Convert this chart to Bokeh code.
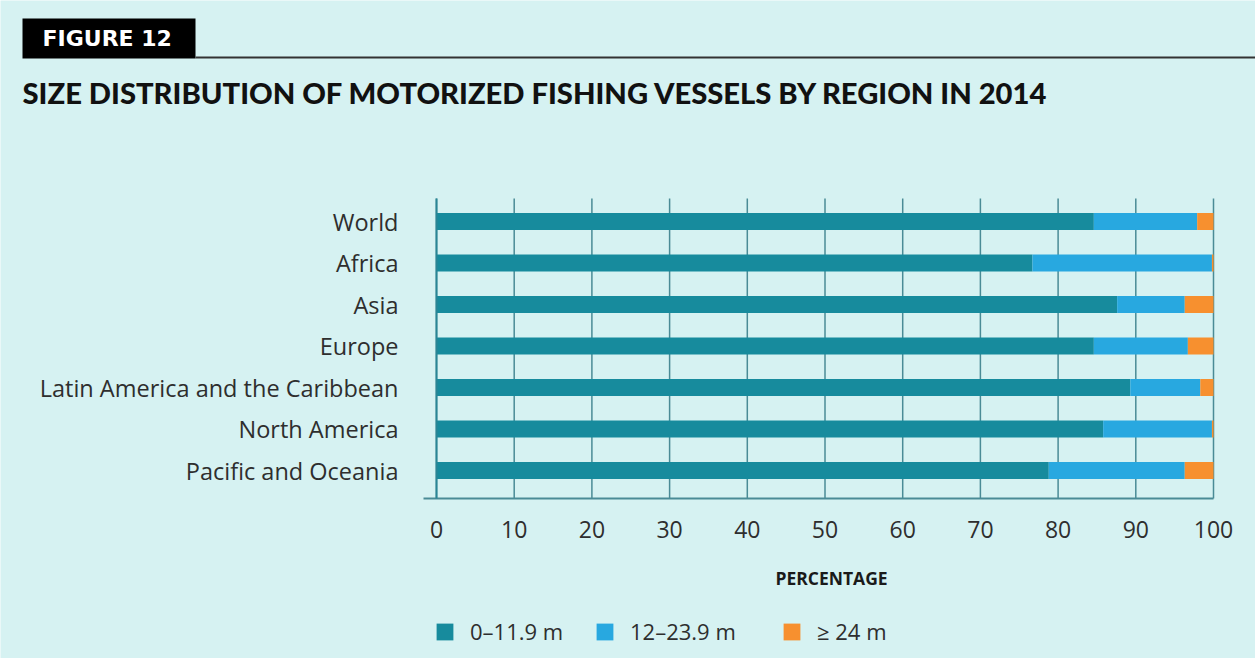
from bokeh.plotting import figure
from bokeh.models import (Range1d, FixedTicker, Label, BoxAnnotation, Legend,
                          LegendItem, ColumnDataSource)
from bokeh.embed import file_html
from bokeh.resources import INLINE

# ---- data -------------------------------------------------------------
regions = ["World", "Africa", "Asia", "Europe",
           "Latin America and the Caribbean", "North America",
           "Pacific and Oceania"]
small = [84.6, 76.7, 87.6, 84.6, 89.3, 85.8, 78.8]     # 0-11.9 m
medium = [13.3, 23.1, 8.7, 12.1, 9.0, 14.0, 17.5]     # 12-23.9 m
large = [2.1, 0.2, 3.7, 3.3, 1.7, 0.2, 3.7]           # >= 24 m
series_labels = ["0\u201311.9 m", "12\u201323.9 m", "\u2265 24 m"]
x_ticks = [0, 10, 20, 30, 40, 50, 60, 70, 80, 90, 100]

title_text = "SIZE DISTRIBUTION OF MOTORIZED FISHING VESSELS BY REGION IN 2014"
figure_tag = "FIGURE 12"
x_label = "PERCENTAGE"

# ---- style / layout (pixels) -----------------------------------------
W, H = 1255, 658
BG = "#d6f2f2"
colors = ["#178b9d", "#28a8e0", "#f7902f"]
GRID = "#4a8b96"
TXT = "#2e2e2e"
LABEL_FONT = "Open Sans"
X0_PX, X100_PX = 436, 1213          # pixel of 0 % and 100 %
ROW0_PX, ROW_STEP = 221, 41.5       # centre of first bar, row spacing
TOP_PX, BOT_PX = 198, 498           # plot area top / bottom

ppu = (X100_PX - X0_PX) / 100.0
x_start = -X0_PX / ppu
x_end = 100 + (W - X100_PX) / ppu
y_top = (0 - ROW0_PX) / ROW_STEP
y_bot = (H - ROW0_PX) / ROW_STEP
plot_top = (TOP_PX - ROW0_PX) / ROW_STEP
plot_bot = (BOT_PX - ROW0_PX) / ROW_STEP


def sy(img_y):
    return H - img_y


ypos = list(range(len(regions)))
src = ColumnDataSource(dict(y=ypos, small=small, medium=medium, large=large))
grid_src = ColumnDataSource(dict(x=x_ticks, y0=[plot_top] * len(x_ticks),
                                 y1=[plot_bot] * len(x_ticks)))

p = figure(width=W, height=H,
           x_range=Range1d(x_start, x_end), y_range=Range1d(y_bot, y_top),
           output_backend="svg", toolbar_location=None, min_border=0)
p.background_fill_color = BG
p.border_fill_color = BG
p.outline_line_color = None
p.xgrid.visible = False
p.ygrid.visible = False

# vertical grid lines at the ticks
p.segment(x0="x", x1="x", y0="y0", y1="y1", source=grid_src,
          line_color=GRID, line_width=1.5)

rs = p.hbar_stack(["small", "medium", "large"], y="y", height=0.41,
                  color=colors, line_color=None, source=src)

# x axis
xa = p.xaxis[0]
xa.fixed_location = plot_bot
xa.bounds = (-1.7, 100)
xa.ticker = FixedTicker(ticks=x_ticks)
xa.major_tick_line_color = None
xa.minor_tick_line_color = None
xa.major_tick_in = 0
xa.major_tick_out = 0
xa.axis_line_color = GRID
xa.axis_line_width = 2
xa.major_label_standoff = 22
xa.major_label_text_font = LABEL_FONT
xa.major_label_text_font_size = "23px"
xa.major_label_text_color = TXT

# y axis
ya = p.yaxis[0]
ya.fixed_location = 0
ya.bounds = (plot_top, plot_bot)
ya.ticker = FixedTicker(ticks=ypos)
ya.major_label_overrides = {i: r for i, r in zip(ypos, regions)}
ya.major_tick_line_color = None
ya.minor_tick_line_color = None
ya.major_tick_in = 0
ya.major_tick_out = 0
ya.axis_line_color = "#2a8595"
ya.axis_line_width = 2
ya.major_label_standoff = 38
ya.major_label_text_font = LABEL_FONT
ya.major_label_text_font_size = "23.5px"
ya.major_label_text_color = TXT

# x axis title
p.add_layout(Label(x=831, y=sy(577), x_units="screen", y_units="screen",
                   text=x_label, text_font=LABEL_FONT, text_font_style="bold",
                   text_font_size="17.5px", text_color="#1a1a1a",
                   text_align="center", text_baseline="middle"))

# legend: one entry per box, placed like the original
for lab, r, lx in zip(series_labels, rs, [434, 594, 781]):
    lg = Legend(items=[LegendItem(label=lab, renderers=[r])],
                location=(lx, sy(646)), orientation="horizontal",
                glyph_width=21, glyph_height=21, label_standoff=15,
                padding=0, margin=0, border_line_color=None,
                background_fill_alpha=0, label_text_font=LABEL_FONT,
                label_text_font_size="22px", label_text_color=TXT)
    p.add_layout(lg)

# header: black tag box, rule, tag text, title
box = dict(left_units="screen", right_units="screen",
           top_units="screen", bottom_units="screen")
p.add_layout(BoxAnnotation(left=22, right=195, top=sy(18), bottom=sy(58),
                           fill_color="black", fill_alpha=1, line_color=None,
                           **box))
p.add_layout(BoxAnnotation(left=195, right=W, top=sy(56), bottom=sy(58),
                           fill_color="#333333", fill_alpha=1, line_color=None,
                           **box))
p.add_layout(Label(x=42, y=sy(38), x_units="screen", y_units="screen",
                   text=figure_tag, text_font="DejaVu Sans",
                   text_font_style="bold", text_font_size="22px",
                   text_color="white", text_baseline="middle"))
p.add_layout(Label(x=22, y=sy(92), x_units="screen", y_units="screen",
                   text=title_text, text_font="'Lato Black', Roboto",
                   text_font_style="bold", text_font_size="29.2px",
                   text_color="#111111", text_baseline="middle"))

open("out.html", "w").write(file_html(p, INLINE))
